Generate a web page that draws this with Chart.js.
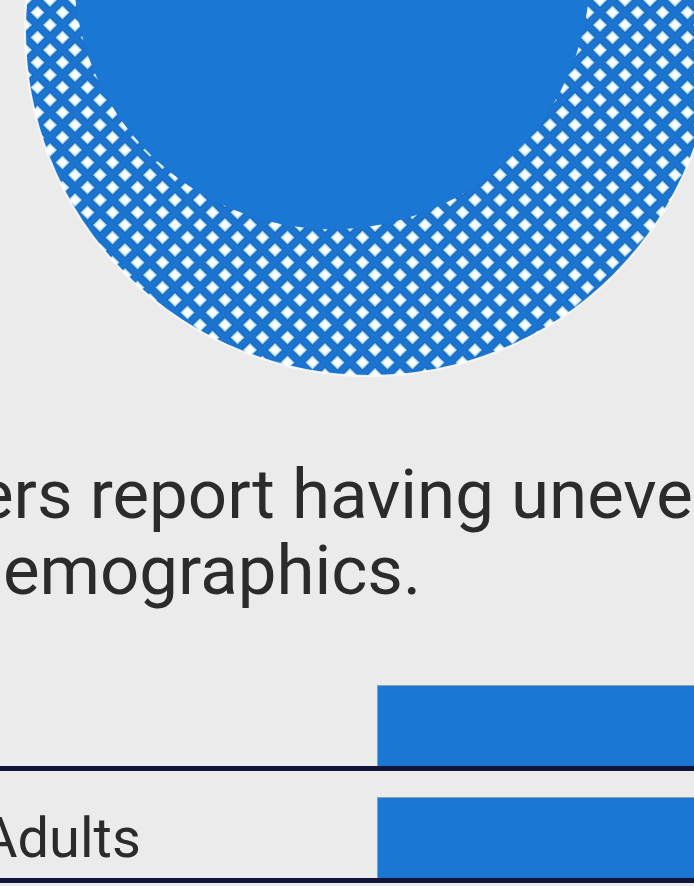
<!DOCTYPE html>
<html>
<head>
<meta charset="utf-8">
<script src="https://cdn.jsdelivr.net/npm/chart.js@4.4.1/dist/chart.umd.min.js"></script>
<style>
html,body{margin:0;padding:0;width:694px;height:886px;overflow:hidden;background:#ebebeb;}
#wrap{position:relative;width:694px;height:886px;overflow:hidden;background:#ebebeb;}
#circle{position:absolute;left:0;top:0;}
#bars{position:absolute;left:-19px;top:616px;}
.t{position:absolute;font-family:Roboto,sans-serif;font-size:69px;line-height:69px;color:#2b2b2b;white-space:nowrap;}
</style>
</head>
<body>
<div id="wrap">
  <canvas id="circle" width="694" height="400"></canvas>
  <div class="t" id="line1" style="left:-23px;top:460px;"></div>
  <div class="t" id="line2" style="left:-36px;top:536px;"></div>
  <canvas id="bars" width="990" height="305"></canvas>
</div>
<script>
// ---- data ----
const titleLines = ["ers report having uneven", "demographics."];
const circleShares = [100, 56];          // whole group, share (area %)
const rowLabels = ["", "Adults"];
const barValues = [52, 48];

// ---- colours ----
const BLUE = '#1a77d3';
const NAVY = '#10133a';
const TEXT = '#2b2b2b';

document.getElementById('line1').textContent = titleLines[0];
document.getElementById('line2').textContent = titleLines[1];

Chart.defaults.font.family = 'Roboto';
Chart.defaults.animation = false;

// halftone pattern
function makePattern() {
  const s = 25;
  const c = document.createElement('canvas');
  c.width = s; c.height = s;
  const g = c.getContext('2d');
  g.fillStyle = '#1b74d0';
  g.fillRect(0, 0, s, s);
  const centers = [[0,0],[s,0],[0,s],[s,s],[s/2,s/2]];
  const layers = [[8.3,'rgba(20,70,135,0.45)'],[7.3,'#7dbcec'],[6.1,'#d3edfc'],[4.7,'#fcfeff']];
  for (const [h, col] of layers) {
    g.fillStyle = col;
    for (const [cx, cy] of centers) {
      g.beginPath();
      g.moveTo(cx, cy - h); g.lineTo(cx + h, cy); g.lineTo(cx, cy + h); g.lineTo(cx - h, cy);
      g.closePath(); g.fill();
    }
  }
  return g.createPattern(c, 'repeat');
}

const cctx = document.getElementById('circle').getContext('2d');
const OUTER_R = 345;
const center = {x: 370, y: 31};
const innerShift = {x: -38, y: -60};
const radii = circleShares.map(s => OUTER_R * Math.sqrt(s / circleShares[0]));

new Chart(cctx, {
  type: 'bubble',
  data: {
    datasets: [
      {
        label: 'All',
        order: 2,
        data: [{x: center.x, y: center.y, r: radii[0]}],
        backgroundColor: makePattern(),
        borderColor: 'rgba(250,250,250,0.9)',
        borderWidth: 2,
        clip: false
      },
      {
        label: 'Share',
        order: 1,
        data: [{x: center.x + innerShift.x, y: center.y + innerShift.y, r: radii[1]}],
        backgroundColor: BLUE,
        borderWidth: 0,
        clip: false
      }
    ]
  },
  options: {
    responsive: false,
    events: [],
    layout: {padding: 0, autoPadding: false},
    plugins: {legend: {display: false}, tooltip: {enabled: false}},
    scales: {
      x: {type: 'linear', min: 0, max: 694, display: false},
      y: {type: 'linear', min: 0, max: 400, reverse: true, display: false}
    }
  }
});

const bctx = document.getElementById('bars').getContext('2d');
new Chart(bctx, {
  type: 'bar',
  data: {
    labels: rowLabels,
    datasets: [
      {label: 'spacer', data: rowLabels.map(() => null)},
      {
        label: 'Share',
        data: barValues,
        backgroundColor: BLUE,
        borderColor: 'rgba(70,95,130,0.55)',
        borderWidth: {top: 1, left: 1, right: 0, bottom: 0},
        borderSkipped: false
      }
    ]
  },
  options: {
    indexAxis: 'y',
    responsive: false,
    events: [],
    layout: {padding: {top: 40.5, bottom: 40.5, left: 0, right: 0}, autoPadding: false},
    datasets: {bar: {categoryPercentage: 0.509, barPercentage: 2.93}},
    plugins: {legend: {display: false}, tooltip: {enabled: false}},
    scales: {
      x: {min: -40, max: 60, display: false},
      y: {
        grid: {
          display: true,
          offset: true,
          drawTicks: false,
          lineWidth: 5,
          z: 1,
          color: ctx => (ctx.index === 0 ? 'rgba(0,0,0,0)' : NAVY)
        },
        border: {display: false},
        ticks: {
          mirror: true,
          padding: 0,
          crossAlign: 'near',
          labelOffset: 18,
          color: TEXT,
          font: {family: 'Roboto', size: 56}
        }
      }
    }
  }
});
</script>
</body>
</html>
